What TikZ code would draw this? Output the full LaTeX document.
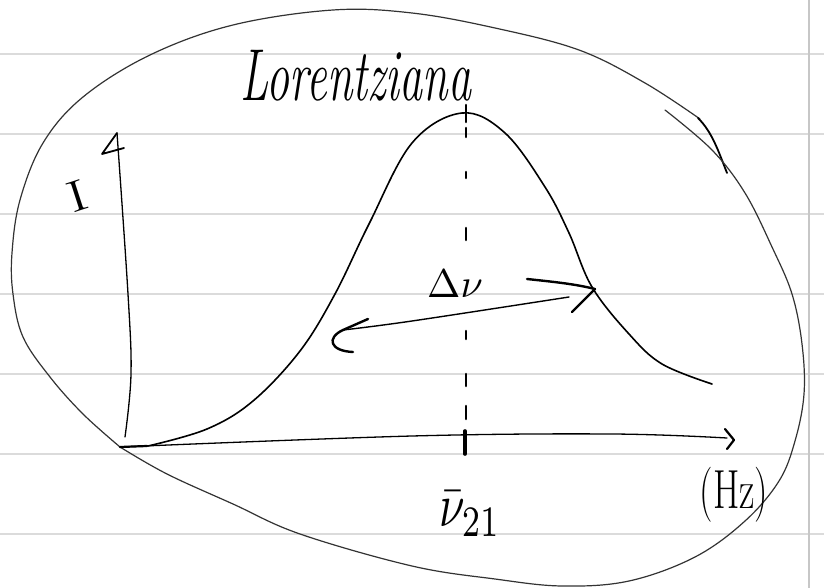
\documentclass[tikz,border=0pt]{standalone}
\usepackage{amsmath}
\begin{document}
\begin{tikzpicture}[x=1pt,y=-1pt,
  rule/.style={draw=black!14,line width=2.6pt},
  ink/.style={draw=black,line width=1.6pt,line cap=round,line join=round},
  blobink/.style={draw=black!80,line width=1.2pt,line cap=round,line join=round},
  thick ink/.style={draw=black,line width=2.6pt,line cap=round,line join=round},
  hand/.style={inner sep=0pt,text=black}]
\useasboundingbox (0,0) rectangle (824,588);
\fill[white] (0,0) rectangle (824,588);
% ruled paper
\foreach \y in {54,134,...,534} \draw[rule] (0,\y) -- (824,\y);
\draw[draw=black!22,line width=1.6pt] (809,0) -- (809,588);

% named points
\coordinate (O) at (120,447);
\coordinate (ytip) at (117,133);
\coordinate (xtip) at (734,440);
\coordinate (peak) at (464,105);
\coordinate (foot) at (465,454);
\coordinate (lefttip) at (343,330);
\coordinate (righttip) at (595,289);

% enclosing blob (two strokes)
\draw[blobink] plot[smooth,tension=0.6] coordinates {(120,447) (83,414) (50,377) (23,337) (13,294) (12,253) (20,200) (43,143) (83,97) (150,55) (233,25) (333,10) (412,13) (495,28) (579,50) (645,83) (700,119)};
\draw[draw=black,line width=1.8pt,line cap=round] (698,118) .. controls (712,132) and (718,150) .. (727,173);
\draw[blobink] plot[smooth,tension=0.6] coordinates {(665,110) (712,150) (745,193) (772,247) (792,294) (802,344) (804,394) (795,441) (779,481) (745,521) (695,557) (629,581) (562,586) (495,579) (412,566) (300,534) (233,504) (167,474) (120,447)};

% axes
\draw[ink,line width=1.3pt] plot[smooth,tension=0.6] coordinates {(125,437) (131,374) (128,294) (ytip)};
\draw[ink,line width=1.8pt] (ytip) -- (102,154) -- (124,148);
\draw[ink,line width=1.3pt] plot[smooth,tension=0.6] coordinates {(O) (412,436) (612,434) (727,438)};
\draw[ink,line width=2.2pt] (O) -- (147,446);
\draw[ink,line width=2.2pt] (725,429) -- (xtip) -- (727,449);

% line profile
\draw[ink] plot[smooth,tension=0.6] coordinates {(148,446) (207,429) (253,401) (300,351) (335,294) (369,224) (412,143) (462,113) (505,133) (545,187) (569,233) (592,287) (629,334) (662,364) (712,384)};

% centre line
\foreach \a/\b in {105/122,128/137,172/178,228/240,331/339,374/386,406/419} \draw[thick ink] (466,\a) -- (466,\b);
\draw[draw=black,line width=3.6pt,line cap=round] (465,431) -- (foot);

% width arrow
\draw[ink,line width=1.4pt] plot[smooth,tension=0.6] coordinates {(lefttip) (412,321) (569,297)};
\draw[ink,line width=2.4pt] (368,319) -- (lefttip);
\draw[ink,line width=2.4pt] (lefttip) .. controls (326,338) and (330,351) .. (353,352);
\draw[ink,line width=2.4pt] (527,279) .. controls (555,282) and (575,284) .. (righttip);
\draw[ink,line width=2.4pt] (572,312) -- (righttip);

% labels
\node[hand] (title) at (356,76) {\scalebox{1}[1.6]{\fontsize{46}{46}\selectfont\itshape Lorentziana}};
\node[hand,rotate=18] (ilab) at (77,196) {\scalebox{1.4}[1]{\fontsize{44}{44}\selectfont I}};
\node[hand] (dnu) at (455,284) {\scalebox{4}{$\Delta\nu$}};
\node[hand] (nu21) at (470,514) {\scalebox{4.6}[6.2]{$\bar{\nu}_{21}$}};
\node[hand] (hz) at (734,495) {\scalebox{1}[1.45]{\fontsize{38}{38}\selectfont(Hz)}};
\end{tikzpicture}
\end{document}
